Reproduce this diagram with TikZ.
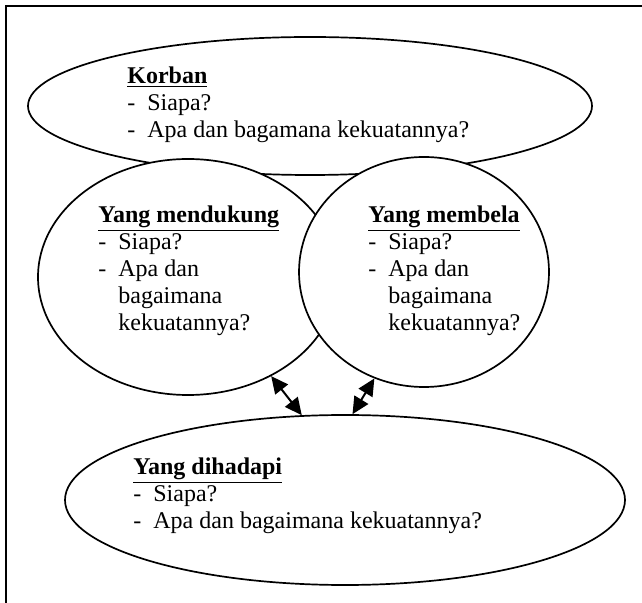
\documentclass[tikz,border=0pt]{standalone}
\usepackage{fontspec}
\setmainfont{Liberation Serif}
\usetikzlibrary{shapes.geometric,arrows.meta}
\tikzset{
  oval/.style={ellipse,draw,line width=0.85pt,fill=white,inner sep=0pt},
  txt/.style={anchor=north west,inner sep=0pt,align=left,font=\fontsize{12pt}{13.6pt}\selectfont},
  link/.style={line width=1pt,{Triangle[length=8.5pt,width=8pt]}-{Triangle[length=8.5pt,width=8pt]}}
}
\newcommand{\dsh}{\makebox[10pt][l]{-}}
\newcommand{\ind}{\hspace*{10pt}}
\begin{document}
\begin{tikzpicture}[x=0.5pt,y=-0.5pt]
\useasboundingbox (0,0) rectangle (642,603);
\draw[line width=1pt] (6,603) coordinate (fb) -- (6,6) coordinate (fc) -- (642,6) coordinate (fr);
% ellipses
\node[oval,minimum width=282pt,minimum height=69pt] (korban) at (310,106) {};
\node[oval,minimum width=280pt,minimum height=85pt] (dih) at (345,500) {};
\node[oval,minimum width=150pt,minimum height=118pt] (mend) at (188,277) {};
\node[oval,minimum width=125pt,minimum height=115pt] (memb) at (424,272) {};
% texts
\node[txt] (tk) at (127,66) {\underline{\textbf{Korban}}\\\dsh Siapa?\\\dsh Apa dan bagamana kekuatannya?};
\node[txt] (tm) at (98,205) {\underline{\textbf{Yang mendukung}}\\\dsh Siapa?\\\dsh Apa dan\\\ind bagaimana\\\ind kekuatannya?};
\node[txt] (tb) at (368,205) {\underline{\textbf{Yang membela}}\\\dsh Siapa?\\\dsh Apa dan\\\ind bagaimana\\\ind kekuatannya?};
\node[txt] (td) at (133,457) {\underline{\textbf{Yang dihadapi}}\\\dsh Siapa?\\\dsh Apa dan bagaimana kekuatannya?};
% arrows
\draw[link] (mend.-50) -- (dih.117);
\draw[link] (memb.-115) -- (dih.85);
\end{tikzpicture}
\end{document}
